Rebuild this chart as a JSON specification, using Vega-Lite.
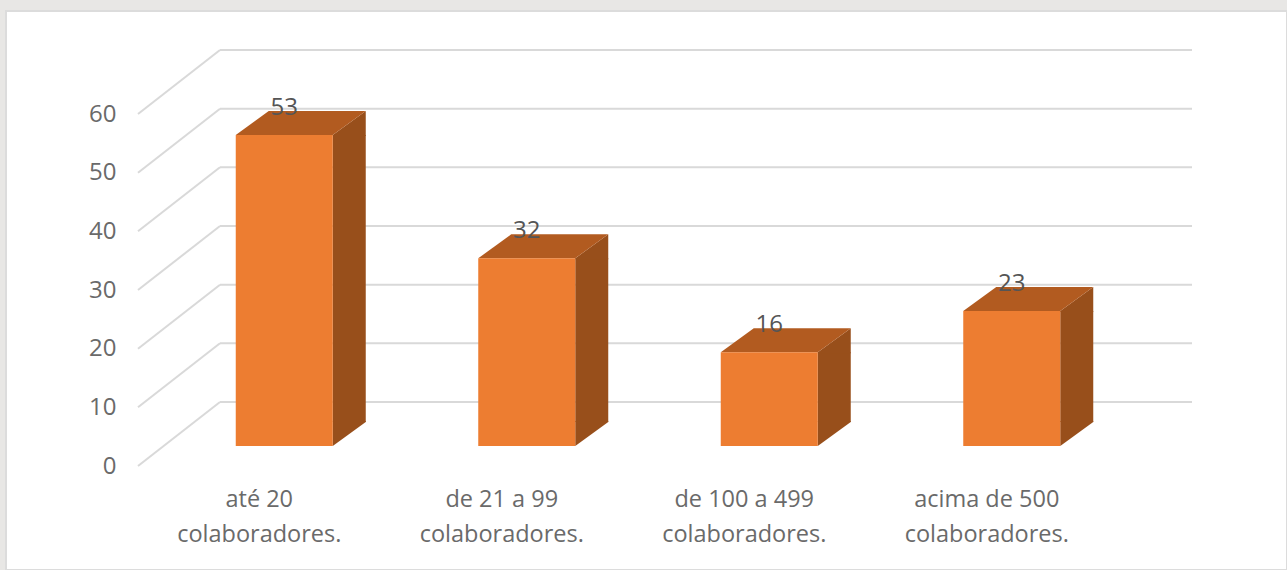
{
  "$schema": "https://vega.github.io/schema/vega-lite/v6.json",
  "width": 1281,
  "height": 559,
  "autosize": {"type": "none"},
  "padding": {"left": 6, "top": 11, "right": 0, "bottom": 0},
  "background": "#e8e7e5",
  "view": {"fill": "#ffffff", "stroke": "#dcdcdc", "strokeWidth": 2},
  "config": {"font": "Open Sans"},
  "datasets": {
    "bars": [
      {"categoria": "até 20 colaboradores.", "valor": 53},
      {"categoria": "de 21 a 99 colaboradores.", "valor": 32},
      {"categoria": "de 100 a 499 colaboradores.", "valor": 16},
      {"categoria": "acima de 500 colaboradores.", "valor": 23}
    ],
    "levels": [
      {"nivel": 0}, {"nivel": 10}, {"nivel": 20}, {"nivel": 30}, {"nivel": 40}, {"nivel": 50}, {"nivel": 60}
    ]
  },
  "resolve": {"scale": {"x": "shared", "y": "shared"}},
  "layer": [
    {
      "data": {"name": "levels"},
      "mark": {"type": "rule", "color": "#d9d9d9", "strokeWidth": 2},
      "encoding": {
        "x": {"value": 214},
        "x2": {"value": 1186},
        "y": {
          "field": "nivel",
          "type": "quantitative",
          "scale": {"domain": [0, 60], "range": [391, 39], "nice": false, "zero": false},
          "axis": {
            "orient": "left",
            "title": null,
            "values": [0, 10, 20, 30, 40, 50, 60],
            "domain": false,
            "ticks": false,
            "grid": false,
            "offset": -110,
            "labelPadding": 0,
            "labelOffset": 64,
            "labelFontSize": 24,
            "labelColor": "#6a6a6a",
            "labelBound": false,
            "labelOverlap": false
          }
        }
      }
    },
    {
      "data": {"name": "levels"},
      "mark": {"type": "rule", "color": "#d9d9d9", "strokeWidth": 2, "y2Offset": 64},
      "encoding": {
        "x": {"value": 214},
        "x2": {"value": 132},
        "y": {"field": "nivel", "type": "quantitative"},
        "y2": {"field": "nivel"}
      }
    },
    {
      "data": {"name": "bars"},
      "layer": [
        {
          "mark": {"type": "bar", "width": 33, "color": "#984f1b", "xOffset": 90, "yOffset": 44, "y2Offset": 20},
          "encoding": {
            "x": {
              "field": "categoria",
              "type": "nominal",
              "sort": null,
              "scale": {"type": "band", "range": [132, 1102]},
              "axis": {
                "orient": "bottom",
                "title": null,
                "domain": false,
                "ticks": false,
                "grid": false,
                "offset": -83,
                "labelAngle": 0,
                "labelPadding": 0,
                "labelFontSize": 23.5,
                "labelColor": "#6a6a6a",
                "labelLineHeight": 35,
                "labelLimit": 300,
                "labelBaseline": "top",
                "labelExpr": "[replace(datum.label, ' colaboradores.', ''), 'colaboradores.']"
              }
            },
            "y": {"field": "valor", "type": "quantitative", "stack": null},
            "y2": {"datum": 0}
          }
        },
        {
          "mark": {"type": "point", "shape": "M0,0L0,1L33,1L33,-24Z", "size": 4, "filled": true, "fill": "#984f1b", "opacity": 1, "xOffset": 73.5, "yOffset": 44},
          "encoding": {
            "x": {"field": "categoria", "type": "nominal", "sort": null},
            "y": {"field": "valor", "type": "quantitative"}
          }
        },
        {
          "mark": {"type": "point", "shape": "M0,0L0,-25L33,-25L33,-24Z", "size": 4, "filled": true, "fill": "#984f1b", "opacity": 1, "xOffset": 73.5, "yOffset": 44},
          "encoding": {
            "x": {"field": "categoria", "type": "nominal", "sort": null},
            "y": {"datum": 0}
          }
        },
        {
          "mark": {"type": "point", "shape": "M0,0L97,0L130,-24L33,-24Z", "size": 4, "filled": true, "fill": "#b25b20", "opacity": 1, "xOffset": -23.5, "yOffset": 44},
          "encoding": {
            "x": {"field": "categoria", "type": "nominal", "sort": null},
            "y": {"field": "valor", "type": "quantitative"}
          }
        },
        {
          "mark": {"type": "bar", "width": 97, "color": "#ed7d31", "xOffset": 25, "yOffset": 44, "y2Offset": 44},
          "encoding": {
            "x": {"field": "categoria", "type": "nominal", "sort": null},
            "y": {"field": "valor", "type": "quantitative", "stack": null},
            "y2": {"datum": 0}
          }
        },
        {
          "mark": {"type": "text", "fontSize": 24, "color": "#555555", "xOffset": 25, "yOffset": 17},
          "encoding": {
            "x": {"field": "categoria", "type": "nominal", "sort": null},
            "y": {"field": "valor", "type": "quantitative"},
            "text": {"field": "valor", "type": "quantitative"}
          }
        }
      ]
    }
  ]
}
